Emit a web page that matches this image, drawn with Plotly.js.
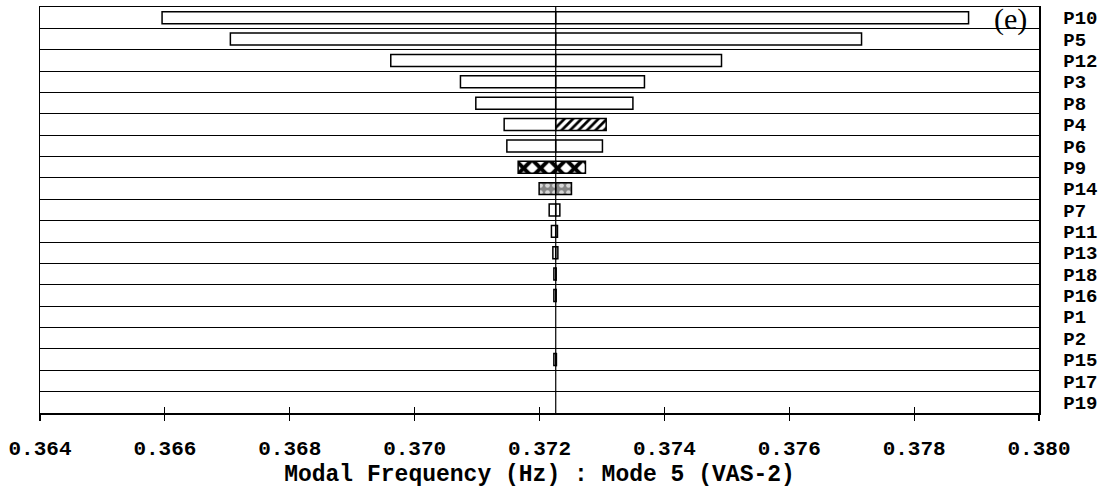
<!DOCTYPE html>
<html>
<head>
<meta charset="utf-8">
<script src="https://cdn.plot.ly/plotly-3.0.1.min.js"></script>
<style>html,body{margin:0;padding:0;background:#fff;}#chart{width:1108px;height:488px;}</style>
</head>
<body>
<div id="chart"></div>
<script>
// Parameters, top to bottom as in the chart
const params = ["P10","P5","P12","P3","P8","P4","P6","P9","P14","P7","P11","P13","P18","P16","P1","P2","P15","P17","P19"];
// Baseline (nominal) modal frequency, Hz
const baseValue = 0.37226;
// Low-end and high-end modal frequency for each parameter (null = no bar)
const lowValues  = [0.365955,0.367049,0.369618,0.370734,0.370980,0.371434,0.371477,0.371658,0.371994,0.372155,0.372191,0.372214,0.372230,0.372230,null,null,0.372230,null,null];
const highValues = [0.378872,0.377158,0.374915,0.373681,0.373496,0.373068,0.373008,0.372736,0.372512,0.372326,0.372288,0.372294,0.372267,0.372267,null,null,0.372271,null,null];
// Fill style for low side / high side of each bar
const lowStyle  = ["plain","plain","plain","plain","plain","plain","plain","checker","gray","plain","plain","plain","plain","plain","plain","plain","plain","plain","plain"];
const highStyle = ["plain","plain","plain","plain","plain","hatch","plain","checker","gray","plain","plain","plain","plain","plain","plain","plain","plain","plain","plain"];
const xTickVals = [0.364,0.366,0.368,0.370,0.372,0.374,0.376,0.378,0.380];
const xTickText = ["0.364","0.366","0.368","0.370","0.372","0.374","0.376","0.378","0.380"];
const xRange = [0.364, 0.380];

const SHAPES = {plain: "", hatch: "/", gray: ".", checker: "x"};
function patternFor(styles){
  return {
    shape: styles.map(s => SHAPES[s]),
    fgcolor: styles.map(s => s === "gray" ? "#d8d8d8" : "#000"),
    bgcolor: styles.map(s => s === "gray" ? "#858585" : "#fff"),
    size: styles.map(s => s === "hatch" ? 6 : (s === "gray" ? 7 : 12)),
    solidity: styles.map(s => s === "hatch" ? 0.45 : (s === "gray" ? 0.35 : 0.55)),
    fillmode: "replace"
  };
}

const lowLen  = lowValues.map(v => v === null ? null : baseValue - v);
const highLen = highValues.map(v => v === null ? null : v - baseValue);

const common = {
  type: "bar", orientation: "h", y: params, hoverinfo: "skip",
  showlegend: false, width: 0.56, yaxis: "y"
};

const traces = [
  Object.assign({}, common, {
    xaxis: "x",
    base: lowValues, x: lowLen,
    marker: {color: "#fff", line: {color: "#000", width: 1.5}, pattern: patternFor(lowStyle)}
  }),
  Object.assign({}, common, {
    xaxis: "x2",
    base: highValues.map(v => v === null ? null : baseValue), x: highLen,
    marker: {color: "#fff", line: {color: "#000", width: 1.5}, pattern: patternFor(highStyle)}
  })
];

const MONO = "Liberation Mono, Courier New, monospace";

const layout = {
  width: 1108, height: 488,
  margin: {l: 40, r: 69, t: 7, b: 75, pad: 0},
  paper_bgcolor: "#fff", plot_bgcolor: "#fff",
  barmode: "overlay",
  xaxis: {
    range: xRange, tickvals: xTickVals, ticktext: xTickText,
    ticks: "inside", ticklen: 6, tickwidth: 1.2, tickcolor: "#000",
    showline: true, mirror: true, linecolor: "#000", linewidth: 1.5,
    showgrid: false, zeroline: false,
    tickfont: {family: MONO, size: 21, color: "#000", weight: "bold"},
    ticklabelstandoff: 15,
    title: {text: "Modal Frequency (Hz) : Mode 5 (VAS-2)", font: {family: MONO, size: 23, color: "#000", weight: "bold"}, standoff: 6}
  },
  xaxis2: {
    range: xRange, tickvals: xTickVals, overlaying: "x", anchor: "y", side: "bottom",
    ticks: "outside", ticklen: 7, tickwidth: 1.2, tickcolor: "#000",
    showticklabels: false, showgrid: false, zeroline: false, showline: false
  },
  yaxis: {
    type: "category", categoryorder: "array", categoryarray: params.slice().reverse(),
    tickmode: "array", tickvals: params, ticktext: params,
    side: "right", tickson: "boundaries", ticks: "",
    showgrid: true, gridcolor: "#000", gridwidth: 1,
    showline: true, mirror: true, linecolor: "#000", linewidth: 1.5,
    tickfont: {family: MONO, size: 19, color: "#000", weight: "bold"},
    ticklabelstandoff: 19
  },
  shapes: [{
    type: "line", xref: "x", yref: "paper", x0: baseValue, x1: baseValue, y0: 0, y1: 1,
    line: {color: "#000", width: 1.2}, layer: "above"
  }],
  annotations: [{
    xref: "paper", yref: "paper", x: 1, y: 1, xanchor: "right", yanchor: "top",
    xshift: -10, yshift: 7, showarrow: false, text: "(e)",
    font: {family: "Liberation Serif, Times New Roman, serif", size: 30, color: "#000"}
  }]
};

Plotly.newPlot("chart", traces, layout, {staticPlot: true, displayModeBar: false});
</script>
</body>
</html>
